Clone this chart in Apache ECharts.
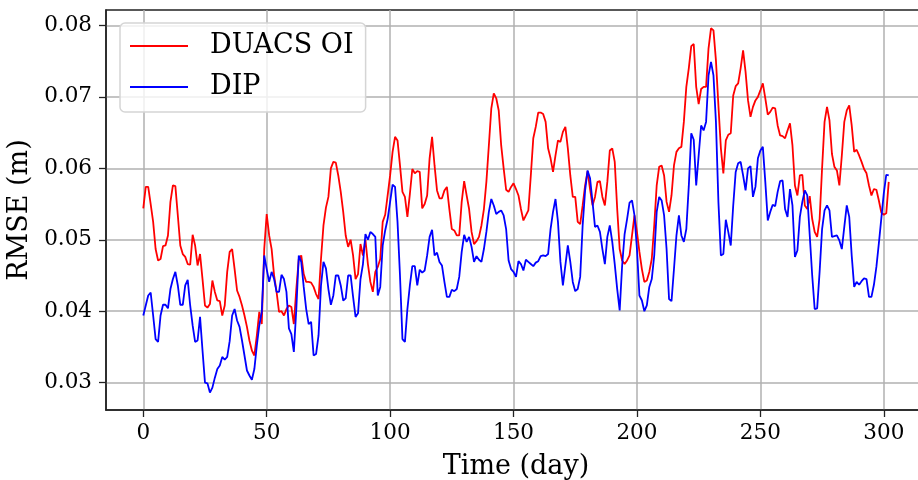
<!DOCTYPE html>
<html>
<head>
<meta charset="utf-8">
<script src="https://cdn.jsdelivr.net/npm/echarts@6/dist/echarts.min.js"></script>
<style>
html,body{margin:0;padding:0;background:#fff;}
#chart{width:918px;height:480px;}
</style>
</head>
<body>
<div id="chart"></div>
<script>
// RMSE per day, days 0..302
const duacs = [
0.0544,0.0574,0.0574,0.0550,0.0525,0.0487,0.0471,0.0473,0.0491,0.0492,
0.0506,0.0553,0.0576,0.0575,0.0534,0.0492,0.0480,0.0476,0.0466,0.0465,
0.0507,0.0492,0.0464,0.0480,0.0445,0.0408,0.0405,0.0410,0.0443,0.0427,
0.0415,0.0414,0.0394,0.0408,0.0455,0.0483,0.0487,0.0459,0.0429,0.0420,
0.0408,0.0394,0.0378,0.0359,0.0345,0.0338,0.0366,0.0399,0.0382,0.0487,
0.0536,0.0506,0.0487,0.0450,0.0427,0.0399,0.0400,0.0394,0.0403,0.0408,
0.0406,0.0382,0.0431,0.0473,0.0478,0.0452,0.0441,0.0441,0.0440,0.0434,
0.0424,0.0417,0.0473,0.0520,0.0545,0.0560,0.0600,0.0609,0.0608,0.0590,
0.0567,0.0539,0.0506,0.0490,0.0500,0.0478,0.0445,0.0452,0.0494,0.0478,
0.0500,0.0466,0.0441,0.0427,0.0455,0.0462,0.0473,0.0525,0.0535,0.0562,
0.0590,0.0623,0.0644,0.0639,0.0604,0.0567,0.0560,0.0532,0.0564,0.0599,
0.0593,0.0596,0.0595,0.0544,0.0550,0.0562,0.0614,0.0644,0.0604,0.0569,
0.0558,0.0558,0.0569,0.0574,0.0543,0.0515,0.0513,0.0506,0.0506,0.0553,
0.0582,0.0562,0.0543,0.0511,0.0494,0.0498,0.0504,0.0520,0.0543,0.0581,
0.0632,0.0684,0.0705,0.0698,0.0681,0.0632,0.0600,0.0570,0.0567,0.0574,
0.0579,0.0571,0.0562,0.0543,0.0527,0.0534,0.0541,0.0590,0.0642,0.0658,
0.0678,0.0678,0.0676,0.0665,0.0628,0.0614,0.0595,0.0618,0.0639,0.0637,
0.0651,0.0658,0.0628,0.0590,0.0560,0.0560,0.0525,0.0522,0.0548,0.0576,
0.0596,0.0571,0.0548,0.0560,0.0581,0.0582,0.0560,0.0548,0.0581,0.0625,
0.0628,0.0609,0.0543,0.0487,0.0471,0.0466,0.0471,0.0478,0.0506,0.0534,
0.0511,0.0483,0.0459,0.0441,0.0443,0.0455,0.0473,0.0520,0.0576,0.0602,
0.0604,0.0590,0.0553,0.0539,0.0562,0.0604,0.0623,0.0628,0.0630,0.0665,
0.0714,0.0740,0.0771,0.0774,0.0714,0.0690,0.0711,0.0714,0.0714,0.0768,
0.0796,0.0793,0.0751,0.0688,0.0628,0.0593,0.0639,0.0647,0.0649,0.0702,
0.0715,0.0719,0.0740,0.0765,0.0735,0.0695,0.0672,0.0686,0.0695,0.0700,
0.0709,0.0719,0.0698,0.0675,0.0679,0.0685,0.0684,0.0660,0.0646,0.0645,
0.0642,0.0653,0.0663,0.0632,0.0576,0.0562,0.0590,0.0591,0.0548,0.0543,
0.0561,0.0529,0.0511,0.0504,0.0529,0.0600,0.0665,0.0686,0.0667,0.0620,
0.0602,0.0597,0.0576,0.0618,0.0665,0.0681,0.0688,0.0660,0.0623,0.0626,
0.0618,0.0609,0.0599,0.0593,0.0576,0.0562,0.0571,0.0570,0.0555,0.0538,
0.0535,0.0537,0.0581
];
const dip = [
0.0394,0.0408,0.0422,0.0426,0.0394,0.0361,0.0357,0.0394,0.0409,0.0409,
0.0404,0.0431,0.0445,0.0455,0.0436,0.0409,0.0409,0.0436,0.0444,0.0408,
0.0380,0.0357,0.0359,0.0392,0.0345,0.0300,0.0299,0.0286,0.0293,0.0307,
0.0319,0.0324,0.0336,0.0332,0.0336,0.0358,0.0394,0.0403,0.0387,0.0378,
0.0359,0.0338,0.0317,0.0310,0.0304,0.0319,0.0352,0.0380,0.0399,0.0478,
0.0459,0.0441,0.0455,0.0445,0.0427,0.0427,0.0451,0.0445,0.0427,0.0376,
0.0368,0.0343,0.0403,0.0478,0.0469,0.0434,0.0403,0.0382,0.0385,0.0338,
0.0340,0.0366,0.0436,0.0469,0.0460,0.0431,0.0409,0.0422,0.0450,0.0450,
0.0436,0.0415,0.0418,0.0450,0.0450,0.0420,0.0392,0.0397,0.0445,0.0466,
0.0508,0.0500,0.0511,0.0508,0.0504,0.0422,0.0434,0.0492,0.0513,0.0529,
0.0553,0.0577,0.0574,0.0525,0.0450,0.0361,0.0357,0.0403,0.0436,0.0463,
0.0463,0.0436,0.0458,0.0454,0.0457,0.0478,0.0504,0.0514,0.0478,0.0482,
0.0469,0.0464,0.0441,0.0420,0.0420,0.0430,0.0428,0.0431,0.0448,0.0483,
0.0507,0.0497,0.0504,0.0490,0.0469,0.0477,0.0472,0.0469,0.0487,0.0511,
0.0539,0.0557,0.0548,0.0536,0.0539,0.0541,0.0534,0.0515,0.0471,0.0459,
0.0455,0.0448,0.0470,0.0466,0.0457,0.0472,0.0469,0.0466,0.0463,0.0468,
0.0470,0.0477,0.0478,0.0477,0.0480,0.0515,0.0539,0.0557,0.0525,0.0469,
0.0436,0.0464,0.0492,0.0469,0.0441,0.0428,0.0431,0.0448,0.0520,0.0569,
0.0597,0.0586,0.0553,0.0518,0.0520,0.0511,0.0487,0.0466,0.0504,0.0520,
0.0497,0.0466,0.0431,0.0401,0.0464,0.0508,0.0529,0.0552,0.0555,0.0534,
0.0487,0.0422,0.0415,0.0400,0.0408,0.0434,0.0445,0.0478,0.0539,0.0560,
0.0555,0.0534,0.0487,0.0417,0.0414,0.0459,0.0506,0.0534,0.0506,0.0497,
0.0515,0.0575,0.0649,0.0640,0.0576,0.0618,0.0660,0.0653,0.0665,0.0730,
0.0749,0.0730,0.0665,0.0553,0.0478,0.0480,0.0528,0.0511,0.0492,0.0548,
0.0595,0.0607,0.0609,0.0590,0.0569,0.0600,0.0603,0.0560,0.0574,0.0614,
0.0625,0.0630,0.0581,0.0527,0.0539,0.0549,0.0547,0.0567,0.0582,0.0583,
0.0543,0.0532,0.0571,0.0548,0.0476,0.0485,0.0532,0.0553,0.0569,0.0562,
0.0506,0.0450,0.0403,0.0404,0.0455,0.0515,0.0541,0.0548,0.0541,0.0504,
0.0505,0.0506,0.0499,0.0487,0.0518,0.0548,0.0532,0.0478,0.0434,0.0441,
0.0437,0.0442,0.0446,0.0445,0.0420,0.0420,0.0437,0.0462,0.0495,0.0530,
0.0565,0.0591,0.0590
];
const xTicks = [0, 50, 100, 150, 200, 250, 300];
const yTicks = [0.03, 0.04, 0.05, 0.06, 0.07, 0.08];
const seriesNames = ['DUACS OI', 'DIP'];

const FONT = 'DejaVu Serif';
const toPairs = arr => arr.map((v, i) => [i, v]);

const chart = echarts.init(document.getElementById('chart'), null, {renderer: 'canvas'});
chart.setOption({
  animation: false,
  backgroundColor: '#fff',
  grid: {
    left: 106, top: 10, width: 820, height: 400,
    outerBoundsMode: 'none', containLabel: false,
    show: true, borderColor: '#222', borderWidth: 1.5, backgroundColor: 'transparent'
  },
  legend: {
    left: 120, top: 23,
    orient: 'vertical',
    padding: [8, 12, 10, 10],
    itemGap: 11,
    icon: 'rect',
    itemWidth: 58, itemHeight: 2,
    backgroundColor: 'rgba(255,255,255,0.8)',
    borderColor: '#d5d5d5', borderWidth: 1.5, borderRadius: 5,
    textStyle: {fontFamily: FONT, fontSize: 27, color: '#000', lineHeight: 30, padding: [0, 0, 0, 17]},
    data: seriesNames
  },
  xAxis: {
    type: 'value', min: -15.1, max: 317.1,
    name: 'Time (day)', nameLocation: 'middle', nameGap: 43,
    nameTextStyle: {fontFamily: FONT, fontSize: 27, color: '#000'},
    axisLine: {show: true, onZero: false, lineStyle: {color: '#222', width: 1.5}},
    axisTick: {show: true, inside: false, length: 7, lineStyle: {color: '#222', width: 1.3}, customValues: xTicks},
    axisLabel: {fontFamily: FONT, fontSize: 21.5, color: '#000', margin: 12, customValues: xTicks, formatter: v => String(v)},
    splitLine: {show: true, lineStyle: {color: '#b0b0b0', width: 1.5}}
  },
  yAxis: {
    type: 'value', min: 0.02617, max: 0.08216,
    name: 'RMSE (m)', nameLocation: 'middle', nameGap: 70,
    nameTextStyle: {fontFamily: FONT, fontSize: 27, color: '#000'},
    axisLine: {show: true, onZero: false, lineStyle: {color: '#222', width: 1.5}},
    axisTick: {show: true, inside: false, length: 7, lineStyle: {color: '#222', width: 1.3}, customValues: yTicks},
    axisLabel: {fontFamily: FONT, fontSize: 21.5, color: '#000', margin: 14, customValues: yTicks, formatter: v => v.toFixed(2)},
    splitLine: {show: true, lineStyle: {color: '#b0b0b0', width: 1.5}}
  },
  series: [
    {name: seriesNames[0], type: 'line', data: toPairs(duacs), symbol: 'none', showSymbol: false,
     lineStyle: {color: '#ff0000', width: 1.8}, itemStyle: {color: '#ff0000'}},
    {name: seriesNames[1], type: 'line', data: toPairs(dip), symbol: 'none', showSymbol: false,
     lineStyle: {color: '#0000ff', width: 1.8}, itemStyle: {color: '#0000ff'}}
  ]
});
</script>
</body>
</html>
